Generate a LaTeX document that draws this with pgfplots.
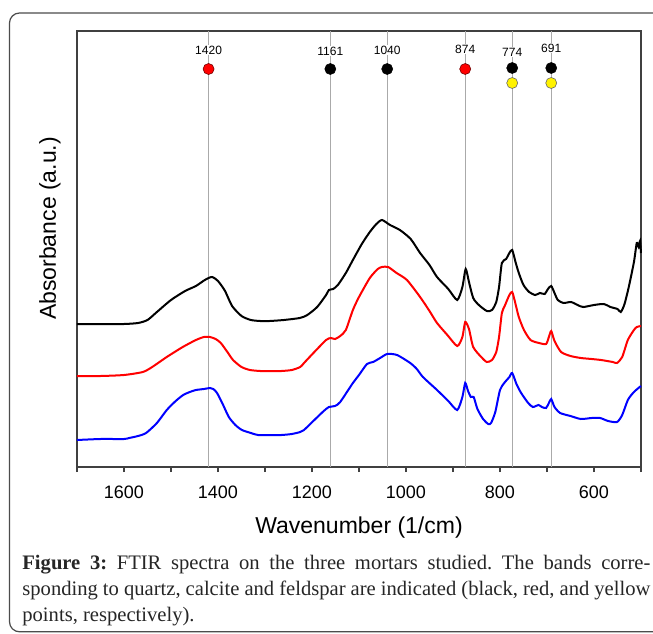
\documentclass[border=0pt]{standalone}
\usepackage{fontspec}
\setmainfont{Liberation Sans}
\newfontfamily\capfont{Liberation Serif}
\usepackage{pgfplots}
\pgfplotsset{compat=1.18}

\definecolor{bandline}{HTML}{AAAAAA}
\definecolor{framegray}{HTML}{404040}

\begin{document}
\frenchspacing
\begin{tikzpicture}
\useasboundingbox (0,0) rectangle (326.5pt,316.5pt);
\fill[white] (0,0) rectangle (326.5pt,316.5pt);
% outer figure frame (runs off the right edge)
\draw[black!70, line width=0.6pt, rounded corners=5pt] (4.75pt,0.6pt) rectangle (345pt,310pt);

\begin{axis}[
    at={(38.5pt,83pt)}, anchor=south west,
    scale only axis, width=282pt, height=218pt,
    x dir=reverse,
    xmin=500, xmax=1700, ymin=0, ymax=436,
    xtick={600,800,...,1600},
    minor xtick={500,700,...,1700},
    xtick pos=left, ytick=\empty,
    tick align=outside,
    major tick length=2.5pt, minor tick length=2.5pt,
    every tick/.style={framegray, line width=0.6pt},
    axis line style={framegray, line width=0.9pt},
    /pgf/number format/assume math mode=true,
    /pgf/number format/set thousands separator={},
    xticklabel style={font=\fontsize{9}{10}\selectfont, yshift=-3.5pt},
    xlabel={Wavenumber (1/cm)},
    ylabel={Absorbance (a.u.)},
    xlabel style={font=\fontsize{11.5}{13}\selectfont, at={(axis description cs:0.5,0)}, anchor=base, yshift=-33pt},
    ylabel style={font=\fontsize{11.5}{13}\selectfont, at={(axis description cs:-0.048,0.547)}, anchor=center},
    clip=false,
]
% band positions
\addplot[bandline, line width=0.5pt] coordinates {(1420,0)(1420,436)};
\addplot[bandline, line width=0.5pt] coordinates {(1161,0)(1161,436)};
\addplot[bandline, line width=0.5pt] coordinates {(1040,0)(1040,436)};
\addplot[bandline, line width=0.5pt] coordinates {(874,0)(874,436)};
\addplot[bandline, line width=0.5pt] coordinates {(774,0)(774,436)};
\addplot[bandline, line width=0.5pt] coordinates {(691,0)(691,436)};

% top spectrum (black)
\addplot[black, line width=1pt, smooth, tension=0.4] coordinates {
(1700,143)(1650,143)(1600,143)(1570,144)(1550,147)(1530,155)(1500,167)(1470,176)(1447,181)
(1428,187)(1413,190)(1400,186)(1385,176)(1370,161)(1350,151)(1330,147)(1310,146)(1290,146)
(1260,147)(1226,149)(1210,152)(1189,160)(1170,172)(1164,177)(1155,178)(1145,182)(1128,194)
(1113,207)(1094,223)(1077,235)(1063,243)(1051,247)(1034,242)(1013,237)(990,228)
(970,214)(950,202)(934,190)(910,178)(891,167)(880,180)(873,198)(866,185)(857,169)
(845,162)(828,156)(817,157)(808,165)(802,180)(796,204)(787,208)(780,214)(774,217)
(767,205)(760,194)(750,182)(738,175)(725,172)(715,174)(705,173)(698,178)(691,181)
(684,174)(677,167)(665,164)(649,165)(635,162)(623,160)(600,162)(579,163)(565,160)
(550,158)(543,155)(535,163)(526,180)(515,205)(509,224)(505,220)(502,226)(500,214)
};
% middle spectrum (red)
\addplot[red, line width=1pt, smooth, tension=0.4] coordinates {
(1700,91)(1650,91)(1600,92)(1560,95)(1540,100)(1509,110)(1475,120)(1447,127)(1430,130)
(1417,130)(1405,128)(1394,124)(1380,115)(1368,107)(1350,100)(1332,97)(1310,96)(1290,96)
(1265,96)(1243,97)(1225,100)(1217,104)(1195,115)(1170,127)(1160,129)(1151,128)(1140,131)
(1128,137)(1113,157)(1100,170)(1077,189)(1060,198)(1051,200)(1038,200)(1020,194)
(998,187)(970,170)(950,156)(934,144)(912,132)(891,121)(880,130)(874,145)(866,138)
(857,120)(840,110)(828,105)(817,107)(808,115)(802,130)(796,154)(790,161)(780,172)
(774,175)(768,165)(760,150)(749,137)(735,127)(717,124)(702,123)(696,130)(691,136)
(684,126)(670,115)(650,111)(628,109)(605,108)(585,107)(560,105)(551,104)(540,110)(528,127)
(515,137)(509,140)(500,141)
};
% bottom spectrum (blue)
\addplot[blue, line width=1pt, smooth, tension=0.4] coordinates {
(1700,27)(1650,28)(1600,28)(1589,29)(1570,31)(1553,34)(1530,44)(1509,57)(1490,66)(1474,72)
(1460,75)(1447,77)(1430,78)(1417,79)(1410,78)(1402,74)(1390,63)(1377,50)(1363,42)
(1349,37)(1330,34)(1315,32)(1290,32)(1265,32)(1243,33)(1225,35)(1217,37)(1195,47)(1175,56)(1164,60)
(1151,61)(1140,65)(1113,84)(1100,92)(1083,103)(1070,105)(1055,109)(1040,113)
(1019,112)(991,104)(977,98)(964,90)(934,77)(910,66)(891,57)(880,70)(874,84)(868,76)
(862,70)(856,70)(848,58)(836,48)(825,43)(819,44)(810,55)(800,77)(791,84)(780,90)
(774,94)(765,83)(755,74)(740,64)(730,60)(718,62)(711,60)(702,59)(696,64)(691,68)
(684,60)(672,54)(650,51)(628,48)(605,49)(587,49)(570,46)(551,45)(540,52)(528,67)(517,74)
(508,78)(500,81)
};

% band markers: calcite (red), quartz (black), feldspar (yellow)
\addplot[only marks, mark=*, mark size=2.75pt, mark options={fill=red, draw=red!45!black, line width=0.3pt}]
  coordinates {(1420,398)(874,398)};
\addplot[only marks, mark=*, mark size=2.75pt, mark options={fill=black, draw=black, line width=0.3pt}]
  coordinates {(1161,398)(1040,398)(774,399)(691,399)};
\addplot[only marks, mark=*, mark size=2.75pt, mark options={fill=yellow, draw=black!60, line width=0.3pt}]
  coordinates {(774,384)(691,384)};

\begin{scope}[every node/.style={font=\fontsize{6}{7}\selectfont, fill=white, inner sep=0.6pt}]
\node at (axis cs:1420,417) {1420};
\node at (axis cs:1161,416) {1161};
\node at (axis cs:1040,417) {1040};
\node at (axis cs:874,418) {874};
\node at (axis cs:774,415) {774};
\node at (axis cs:691,419) {691};
\end{scope}
\end{axis}

% caption
\begin{scope}[every node/.style={anchor=base west, inner sep=0pt, font=\capfont\fontsize{10.3}{12}\selectfont\frenchspacing, text=black!85}]
\node at (11pt,32pt) {\makebox[314pt][s]{\textbf{Figure 3:} FTIR spectra on the three mortars studied. The bands corre-}};
\node at (11pt,19pt) {\makebox[314pt][s]{sponding to quartz, calcite and feldspar are indicated (black, red, and yellow}};
\node at (11pt,6pt) {points, respectively).};
\end{scope}
\end{tikzpicture}
\end{document}
